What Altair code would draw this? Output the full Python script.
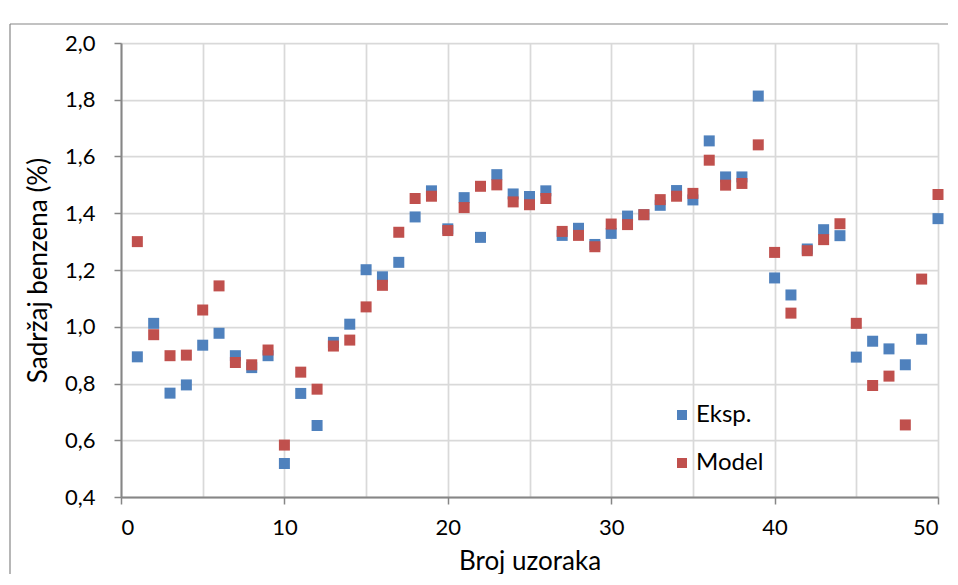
import altair as alt
import pandas as pd

samples = list(range(1, 51))
eksp = [0.894, 1.012, 0.766, 0.795, 0.935, 0.977, 0.898, 0.856, 0.898, 0.518,
        0.765, 0.652, 0.945, 1.009, 1.201, 1.176, 1.227, 1.387, 1.479, 1.345,
        1.455, 1.315, 1.536, 1.468, 1.459, 1.479, 1.322, 1.347, 1.290, 1.329,
        1.390, 1.395, 1.428, 1.480, 1.447, 1.655, 1.528, 1.528, 1.813, 1.172,
        1.112, 1.274, 1.342, 1.321, 0.893, 0.949, 0.922, 0.866, 0.956, 1.381]
model = [1.300, 0.972, 0.898, 0.900, 1.059, 1.144, 0.874, 0.866, 0.918, 0.583,
         0.840, 0.780, 0.932, 0.953, 1.070, 1.146, 1.333, 1.452, 1.460, 1.339,
         1.420, 1.495, 1.500, 1.440, 1.430, 1.452, 1.336, 1.322, 1.282, 1.362,
         1.360, 1.395, 1.448, 1.460, 1.470, 1.587, 1.499, 1.505, 1.641, 1.262,
         1.048, 1.268, 1.307, 1.363, 1.012, 0.793, 0.826, 0.654, 1.168, 1.466]
series_names = ["Eksp.", "Model"]
series_colors = ["#4F81BD", "#C0504D"]
x_ticks = [0, 5, 10, 15, 20, 25, 30, 35, 40, 45, 50]
y_ticks = [0.4, 0.6, 0.8, 1.0, 1.2, 1.4, 1.6, 1.8, 2.0]

df = pd.DataFrame({
    "n": samples + samples,
    "v": eksp + model,
    "series": [series_names[0]] * len(samples) + [series_names[1]] * len(samples),
})

FONT = "Lato"
AX = "#868686"
GRID = "#d9d9d9"

points = alt.Chart(df).mark_point(shape="square", filled=True, size=121, opacity=1).encode(
    x=alt.X("n:Q",
            scale=alt.Scale(domain=[0, 50], nice=False, zero=False),
            axis=alt.Axis(values=x_ticks,
                          labelExpr="datum.value % 10 === 0 ? datum.label : ''",
                          tickColor={"condition": {"test": "datum.value % 10 !== 0", "value": "transparent"}, "value": AX},
                          grid=True, gridColor=GRID, gridWidth=1.75,
                          domainColor=AX, domainWidth=2, tickSize=7, tickWidth=1.5,
                          labelFont=FONT, labelFontSize=22, labelColor="#000000", labelPadding=13,
                          title="Broj uzoraka", titleFont=FONT, titleFontSize=26,
                          titleFontWeight="normal", titleColor="#000000", titlePadding=10)),
    y=alt.Y("v:Q",
            scale=alt.Scale(domain=[0.4, 2.0], nice=False, zero=False),
            axis=alt.Axis(values=y_ticks,
                          labelExpr="replace(format(datum.value, '.1f'), '.', ',')",
                          grid=True, gridColor=GRID, gridWidth=1.75,
                          domainColor=AX, domainWidth=2, tickColor=AX, tickSize=7, tickWidth=1.5,
                          labelFont=FONT, labelFontSize=22, labelColor="#000000", labelPadding=19,
                          title="Sadržaj benzena (%)", titleFont=FONT, titleFontSize=26,
                          titleFontWeight="normal", titleColor="#000000", titlePadding=13)),
    color=alt.Color("series:N",
                    scale=alt.Scale(domain=series_names, range=series_colors),
                    legend=alt.Legend(title=None, orient="none", legendX=549, legendY=360,
                                      symbolType="square", symbolSize=100, symbolStrokeWidth=0,
                                      symbolOpacity=1, labelFont=FONT, labelFontSize=24,
                                      labelColor="#000000", labelOffset=2, rowPadding=24,
                                      padding=0)),
)

frame_df = pd.DataFrame({"k": [0]})
frame_left = alt.Chart(frame_df).mark_rule(color=AX, strokeWidth=1.2).encode(
    x=alt.value(-111), y=alt.value(-19), y2=alt.value(700))
frame_top = alt.Chart(frame_df).mark_rule(color=AX, strokeWidth=1.2).encode(
    x=alt.value(-111), x2=alt.value(1000), y=alt.value(-19))

chart = alt.layer(frame_left, frame_top, points).properties(
    width=817, height=454,
    autosize=alt.AutoSizeParams(type="none"),
    padding={"left": 113, "top": 35, "right": 10, "bottom": 77},
    background="white",
).configure_view(strokeWidth=0)

chart.save("out.html", embed_options={"renderer": "svg", "actions": False})
